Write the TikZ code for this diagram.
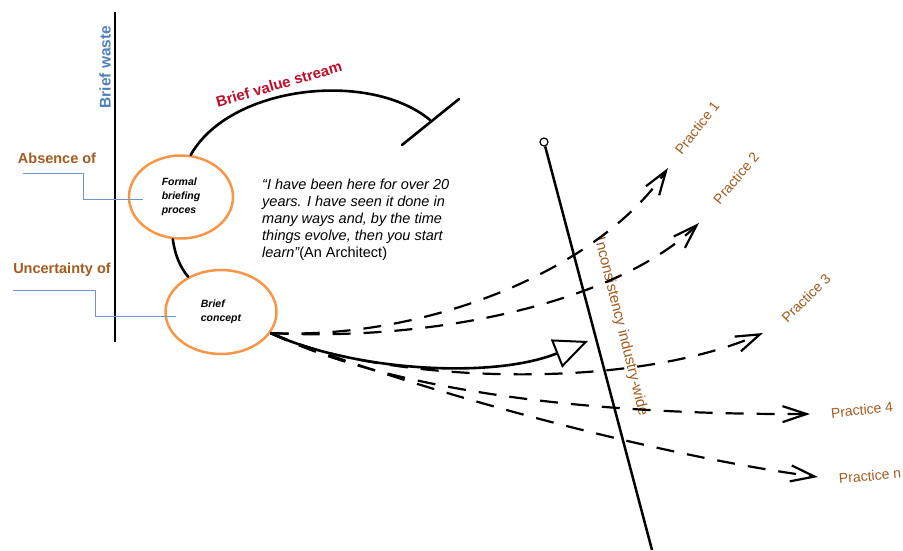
\documentclass[tikz,border=0pt]{standalone}
\usepackage{fontspec}
\setmainfont{Liberation Sans}
\usetikzlibrary{shapes.geometric,arrows.meta}
\definecolor{orangeC}{HTML}{F79646}
\definecolor{brownT}{HTML}{A35B1E}
\definecolor{redT}{HTML}{C00E2A}
\definecolor{blueT}{HTML}{4F81BD}
\definecolor{blueL}{HTML}{7094C8}
\begin{document}
\begin{tikzpicture}[x=1pt,y=-1pt,
  ell/.style={ellipse,draw=orangeC,line width=2.5pt,inner sep=0pt,
    font=\fontsize{10.5}{14}\selectfont\bfseries\itshape,align=left},
  heavy/.style={line width=2.6pt,line cap=round},
  dashline/.style={line width=2.2pt,dash pattern=on 18pt off 13pt,
    -{Straight Barb[length=24pt,width=16pt,line width=2.2pt]}},
  bluelink/.style={draw=blueL,line width=0.9pt},
  sidelabel/.style={font=\fontsize{14.5}{16}\selectfont\bfseries,text=brownT},
  practice/.style={font=\fontsize{14}{16}\selectfont,text=brownT}
]
\useasboundingbox (0,0) rectangle (903,550);

% left waste axis
\coordinate (wtop) at (115,12);
\coordinate (wbot) at (115,342);
\draw[line width=2.6pt] (wtop) -- (wbot);
\node[rotate=90,font=\fontsize{15.5}{17}\selectfont\bfseries,text=blueT] (waste) at (105,67) {Brief waste};

% ellipses
\node[ell,minimum width=104pt,minimum height=83pt] (e1) at (181,197) {Formal\\briefing\\proces};
\node[ell,minimum width=111pt,minimum height=84pt] (e2) at (221,312) {Brief\\concept};

% side labels
\node[sidelabel] (abs) at (57,158) {Absence of};
\node[sidelabel] (unc) at (62,270) {Uncertainty of};
\coordinate (b1s) at (23,173);
\coordinate (b1e) at (143,199);
\coordinate (b2s) at (13,290);
\coordinate (b2e) at (176,316);
\draw[bluelink] (b1s) -- (83,173) -- (83,199) -- (b1e);
\draw[bluelink] (b2s) -- (95,290) -- (95,316) -- (b2e);

% value stream loop
\coordinate (arcend) at (430,120);
\coordinate (tb1) at (402,145);
\coordinate (tb2) at (459,99);
\draw[heavy] (e1.77) .. controls (230,85) and (370,70) .. (arcend);
\draw[heavy] (tb1) -- (tb2);
\draw[heavy] (e1.259) .. controls (175,255) and (180,267) .. (e2.133);
\node[rotate=16,font=\fontsize{15}{17}\selectfont\bfseries,text=redT] (bvs) at (279,84) {Brief value stream};

% quote
\node[anchor=west,align=left,font=\fontsize{14.5}{17}\selectfont\itshape,inner sep=0pt] (quote) at (262,220)
 {“I have been here for over 20\\years. I have seen it done in\\many ways and, by the time\\things evolve, then you start\\learn”{\upshape(An Architect)}};

% industry line
\node[circle,draw,line width=1.2pt,inner sep=0pt,minimum size=8pt] (top) at (544,142) {};
\coordinate (lbot) at (652,550);
\draw[line width=2.5pt] (top) -- (lbot);
\node[rotate=-76,font=\fontsize{15}{17}\selectfont,text=brownT] (incons) at (621,327) {Inconsistency industry-wide};

% practice targets
\coordinate (p1) at (668,168);
\coordinate (p2) at (699,223);
\coordinate (p3) at (763,333);
\coordinate (p4) at (810,414);
\coordinate (pn) at (818,477);
\coordinate (tip) at (588,341);

\draw[dashline] (e2.-23) .. controls (430,340) and (600,268) .. (p1);
\draw[dashline] (e2.-23) .. controls (440,342) and (620,300) .. (p2);
\draw[dashline] (e2.-23) .. controls (370,380) and (620,395) .. (p3);
\draw[dashline] (e2.-23) .. controls (380,385) and (560,415) .. (p4);
\draw[dashline] (e2.-23) .. controls (400,385) and (650,455) .. (pn);
\draw[line width=2.6pt,-{Triangle[open,length=34pt,width=30pt,line width=2pt]}]
  (e2.-23) .. controls (350,370) and (490,380) .. (tip);

\node[practice,rotate=52] (l1) at (697,128) {Practice 1};
\node[practice,rotate=50] (l2) at (736,178) {Practice 2};
\node[practice,rotate=45] (l3) at (806,298) {Practice 3};
\node[practice,rotate=6] (l4) at (862,410) {Practice 4};
\node[practice,rotate=5] (ln) at (870,476) {Practice n};
\end{tikzpicture}
\end{document}
